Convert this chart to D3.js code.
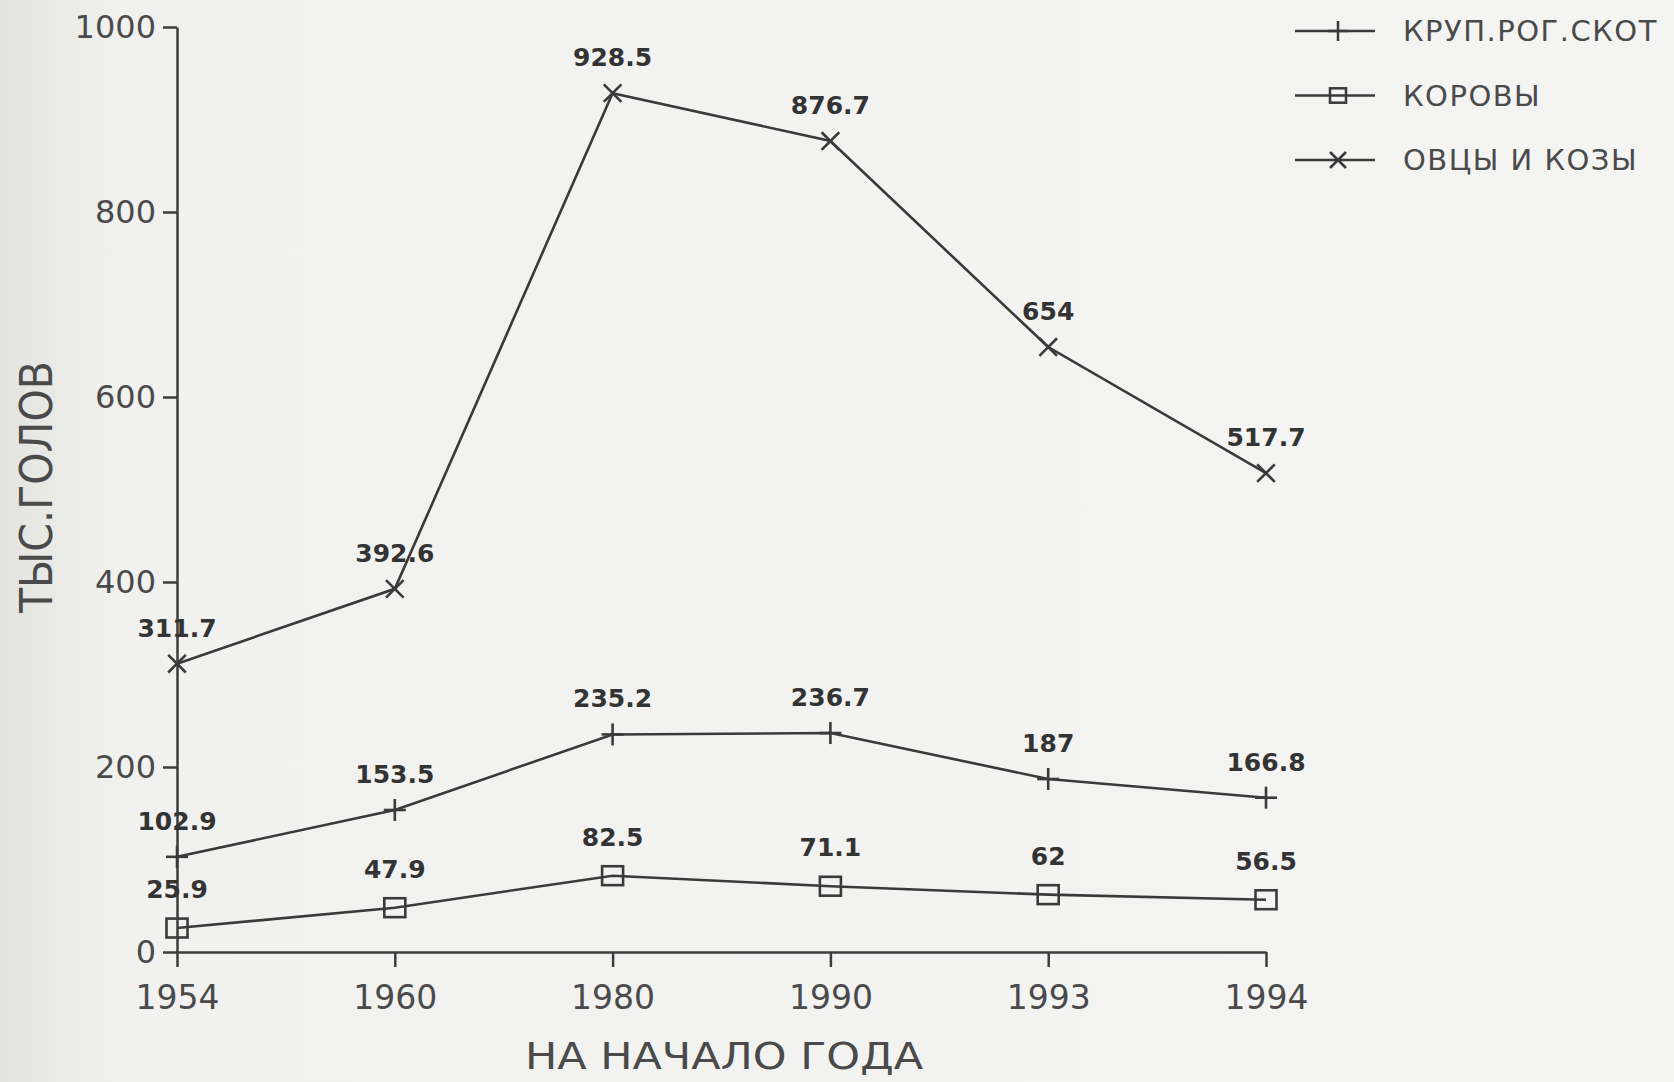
<!DOCTYPE html>
<html>
<head>
<meta charset="utf-8">
<script src="https://cdn.jsdelivr.net/npm/d3@7"></script>
<style>
  body { margin: 0; background: #f3f3f1; }
  svg { display: block; }
  .tick text { fill: #4a4a4a; font-family: "DejaVu Sans", sans-serif; }
  .tick line, .domain { stroke: #3c3c3c; stroke-width: 2.5; }
</style>
</head>
<body>
<div id="chart"></div>
<script>
// years on the x axis (evenly spaced, not a time scale)
const years = ["1954", "1960", "1980", "1990", "1993", "1994"];

// series values, thousand heads
const cattle = [102.9, 153.5, 235.2, 236.7, 187, 166.8];
const cows = [25.9, 47.9, 82.5, 71.1, 62, 56.5];
const sheep = [311.7, 392.6, 928.5, 876.7, 654, 517.7];

const seriesNames = ["КРУП.РОГ.СКОТ", "КОРОВЫ", "ОВЦЫ И КОЗЫ"];
const seriesMarkers = ["plus", "square", "cross"];
const yTicks = [0, 200, 400, 600, 800, 1000];

const xTitle = "НА НАЧАЛО ГОДА";
const yTitle = "ТЫС.ГОЛОВ";

const width = 1674,
  height = 1082,
  ink = "#3a3a3a";

const series = [cattle, cows, sheep].map((values, i) => ({
  name: seriesNames[i],
  marker: seriesMarkers[i],
  values: values.map((v, j) => ({ year: years[j], value: v }))
}));

const svg = d3.select("#chart")
  .append("svg")
    .attr("width", width)
    .attr("height", height);

// paper, a bit darker at the left edge like the scan
const grad = svg.append("defs").append("linearGradient")
    .attr("id", "paper");
grad.append("stop").attr("offset", "0").attr("stop-color", "#e3e3df");
grad.append("stop").attr("offset", "0.07").attr("stop-color", "#f1f1ef");
grad.append("stop").attr("offset", "1").attr("stop-color", "#f4f4f3");
svg.append("rect")
    .attr("width", width)
    .attr("height", height)
    .attr("fill", "url(#paper)");

// scales
const xScale = d3.scalePoint()
    .domain(years)
    .range([177, 1266]);

const yScale = d3.scaleLinear()
    .domain([0, 1000])
    .range([952, 27]);

// axes
svg.append("g")
    .attr("transform", "translate(0," + yScale(0) + ")")
    .call(d3.axisBottom(xScale).tickSize(15).tickSizeOuter(0).tickPadding(19))
    .call(g => g.selectAll("text").style("font-size", "33px"));

svg.append("g")
    .attr("transform", "translate(" + xScale(years[0]) + ",0)")
    .call(d3.axisLeft(yScale).tickValues(yTicks).tickFormat(d3.format("d"))
      .tickSize(14).tickSizeOuter(0).tickPadding(7))
    .call(g => g.selectAll("text").style("font-size", "32px"));

// axis titles
svg.append("text")
    .attr("x", 724)
    .attr("y", 1069)
    .attr("text-anchor", "middle")
    .attr("textLength", 398)
    .attr("lengthAdjust", "spacingAndGlyphs")
    .style("font-family", "DejaVu Sans, sans-serif")
    .style("font-size", "38px")
    .style("fill", "#4a4a4a")
    .text(xTitle);

svg.append("text")
    .attr("transform", "translate(52,487) rotate(-90)")
    .attr("text-anchor", "middle")
    .attr("textLength", 252)
    .attr("lengthAdjust", "spacingAndGlyphs")
    .style("font-family", "DejaVu Sans, sans-serif")
    .style("font-size", "44px")
    .style("fill", "#4a4a4a")
    .text(yTitle);

// draw one marker centred on 0,0
function marker(g, type, s) {
  if (type === "plus") {
    g.append("line").attr("x1", 0).attr("x2", 0).attr("y1", -s / 2).attr("y2", s / 2);
    g.append("line").attr("x1", -s / 2).attr("x2", s / 2).attr("y1", 0).attr("y2", 0);
  } else if (type === "square") {
    g.append("rect").attr("x", -s / 2).attr("y", -s * 0.45).attr("width", s).attr("height", s * 0.9)
      .attr("fill", "none");
  } else {
    const h = s * 0.4;
    g.append("line").attr("x1", -h).attr("x2", h).attr("y1", -h).attr("y2", h);
    g.append("line").attr("x1", -h).attr("x2", h).attr("y1", h).attr("y2", -h);
  }
}

const line = d3.line()
    .x(d => xScale(d.year))
    .y(d => yScale(d.value));

const groups = svg.selectAll(".series")
  .data(series)
  .enter()
  .append("g")
    .attr("class", "series")
    .attr("stroke", ink)
    .attr("stroke-width", 2.6);

groups.append("path")
    .attr("fill", "none")
    .attr("d", d => line(d.values));

// markers at every point
groups.each(function(s) {
  d3.select(this).selectAll(".pt")
    .data(s.values)
    .enter()
    .append("g")
      .attr("class", "pt")
      .attr("transform", d => "translate(" + xScale(d.year) + "," + yScale(d.value) + ")")
      .each(function() { marker(d3.select(this), s.marker, s.marker === "square" ? 21 : 22); });
});

// value labels above points
groups.each(function(s) {
  d3.select(this).selectAll(".lbl")
    .data(s.values)
    .enter()
    .append("text")
      .attr("class", "lbl")
      .attr("x", d => xScale(d.year))
      .attr("y", d => yScale(d.value) - (s.marker === "square" ? 30 : 27))
      .attr("text-anchor", "middle")
      .attr("stroke", "none")
      .style("font-family", "DejaVu Sans, sans-serif")
      .style("font-weight", "bold")
      .style("font-size", "25px")
      .style("fill", "#333")
      .text(d => String(d.value));
});

// legend, top right
const legend = svg.selectAll(".legend")
  .data(series)
  .enter()
  .append("g")
    .attr("class", "legend")
    .attr("transform", (d, i) => "translate(1295," + (31 + i * 64.5) + ")");

legend.append("line")
    .attr("x1", 0)
    .attr("x2", 80)
    .attr("stroke", ink)
    .attr("stroke-width", 2.5);

legend.append("g")
    .attr("transform", "translate(43,0)")
    .attr("stroke", ink)
    .attr("stroke-width", 2.5)
    .each(function(d) { marker(d3.select(this), d.marker, d.marker === "square" ? 16 : 20); });

legend.append("text")
    .attr("x", 108)
    .attr("y", 10)
    .style("font-family", "DejaVu Sans, sans-serif")
    .style("font-size", "29px")
    .style("letter-spacing", "1.5px")
    .style("fill", "#4a4a4a")
    .text(d => d.name);
</script>
</body>
</html>
